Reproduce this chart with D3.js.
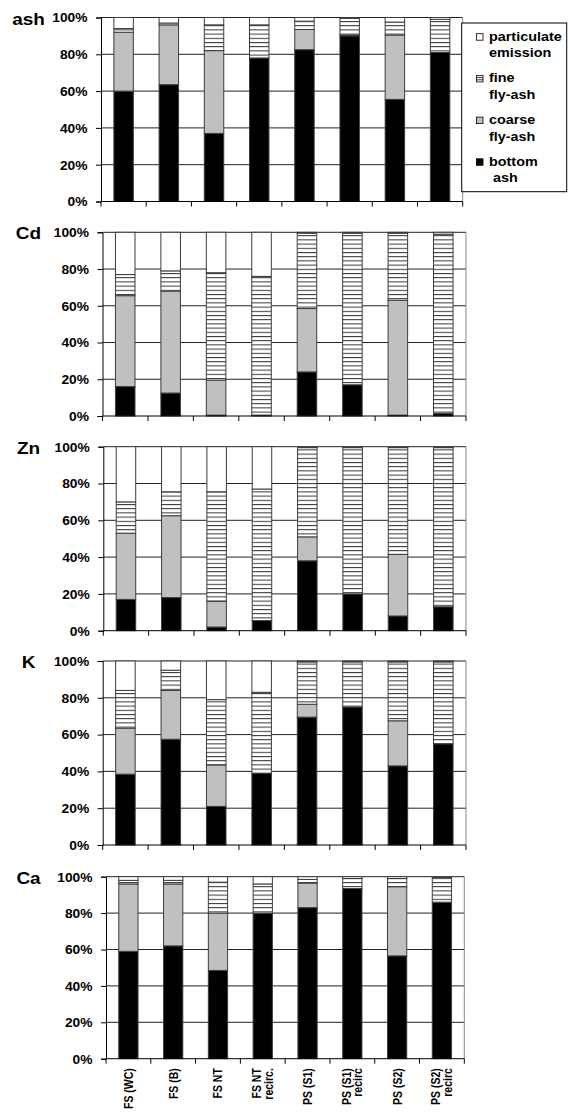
<!DOCTYPE html>
<html>
<head>
<meta charset="UTF-8">
<title>Ash and element distribution</title>
<script src="https://d3js.org/d3.v7.min.js"></script>
<style>
  body { margin: 0; background: #fff; }
  text { font-family: Arial, "Liberation Sans", sans-serif; font-weight: bold; fill: #000; }
</style>
</head>
<body>
<svg width="568" height="1113"></svg>
<script>
// categories (multi-line labels)
const categories = [["FS (WC)"], ["FS (B)"], ["FS NT"], ["FS NT", "recirc."],
                    ["PS (S1)"], ["PS (S1)", "recirc"], ["PS (S2)"], ["PS (S2)", "recirc"]];
const seriesKeys = ["bottom", "coarse", "fine", "particulate"];
const legendLabels = [["particulate", "emission"], ["fine", "fly-ash"], ["coarse", "fly-ash"], ["bottom", " ash"]];
const tickLabels = ["0%", "20%", "40%", "60%", "80%", "100%"];
const panelNames = ["ash", "Cd", "Zn", "K", "Ca"];

// rows: bottom ash, coarse fly-ash, fine fly-ash, particulate emission (%)
const ash = [
  [60, 63.5, 37, 78, 82.5, 90, 55.5, 81],
  [32, 32.5, 45, 0, 11, 0.5, 35, 0],
  [2, 1, 14, 18, 4.5, 9, 7, 18],
  [6, 3, 4, 4, 2, 0.5, 2.5, 1]
];
const cd = [
  [16, 12.5, 0.5, 0, 24, 17, 0.5, 1.5],
  [49.5, 55.5, 19, 0.5, 34.5, 0, 62.5, 0],
  [11.5, 11, 58.5, 75.5, 41, 82.5, 36.5, 97.5],
  [23, 21, 22, 24, 0.5, 0.5, 0.5, 1]
];
const zn = [
  [17, 18, 2, 5.5, 38, 20, 8, 13],
  [36, 44.5, 14, 0, 13, 0, 33.5, 0],
  [17, 13, 59.5, 71.5, 48.5, 79.5, 58, 86.5],
  [30, 24.5, 24.5, 23, 0.5, 0.5, 0.5, 0.5]
];
const k = [
  [38.5, 57.5, 21, 39, 69.5, 75, 43, 55],
  [25, 26.5, 22.5, 0, 7, 0, 24.5, 0],
  [20.5, 11, 35.5, 44, 23, 24.5, 32, 44.5],
  [16, 5, 21, 17, 0.5, 0.5, 0.5, 0.5]
];
const ca = [
  [59, 62, 48.5, 80, 83, 93.5, 56.5, 86],
  [37, 34, 31.5, 0, 13.5, 0, 38, 0],
  [2, 2, 17, 16, 2, 5.5, 4.5, 13.5],
  [2, 2, 3, 4, 1.5, 1, 1, 0.5]
];
const panelData = [ash, cd, zn, k, ca];

// panel boxes (plot area)
const tops = [17.5, 232.3, 446.7, 661, 876.7];
const bottoms = [201.5, 416, 630.7, 845, 1058.7];
const lefts = [101, 102.5, 103.3, 102.7, 106];
const rights = [462.7, 466, 466, 466, 464.3];

const SX = 1.15; // text in the picture is stretched horizontally
const fills = { bottom: "#000", coarse: "#c0c0c0", fine: "url(#hstripe)", particulate: "#fff" };

const svg = d3.select("svg");

const defs = svg.append("defs");
const pat = defs.append("pattern")
    .attr("id", "hstripe")
    .attr("patternUnits", "userSpaceOnUse")
    .attr("width", 8).attr("height", 4.2);
pat.append("rect").attr("width", 8).attr("height", 4.2).attr("fill", "#fff");
pat.append("rect").attr("y", 0).attr("width", 8).attr("height", 1).attr("fill", "#333");

function stretchedText(g, x, y, str, size, anchor) {
    return g.append("text")
        .attr("transform", `translate(${x},${y}) scale(${SX},1)`)
        .attr("text-anchor", anchor)
        .attr("font-size", size)
        .text(str);
}

panelData.forEach((data, p) => {
    const rows = categories.map((c, i) => {
        const r = { cat: c.join(" ") };
        seriesKeys.forEach((key, s) => r[key] = data[s][i]);
        return r;
    });
    const stacked = d3.stack().keys(seriesKeys).offset(d3.stackOffsetExpand)(rows);

    const x = d3.scaleBand()
        .domain(rows.map(d => d.cat))
        .range([lefts[p], rights[p]]);
    const y = d3.scaleLinear().domain([0, 1]).range([bottoms[p], tops[p]]);
    const barW = x.bandwidth() * 0.43;

    const g = svg.append("g");

    // grid
    g.append("g").selectAll("line")
        .data(y.ticks(5).filter(t => t > 0))
        .join("line")
        .attr("x1", lefts[p]).attr("x2", rights[p])
        .attr("y1", d => y(d)).attr("y2", d => y(d))
        .attr("stroke", "#222").attr("stroke-width", 1);
    g.append("line")
        .attr("x1", rights[p]).attr("x2", rights[p])
        .attr("y1", tops[p]).attr("y2", bottoms[p])
        .attr("stroke", "#888");

    // bars
    g.append("g").selectAll("g")
        .data(stacked)
        .join("g")
        .attr("fill", d => fills[d.key])
        .selectAll("rect")
        .data(d => d.filter(v => v[1] - v[0] > 0.0001))
        .join("rect")
        .attr("x", d => x(d.data.cat) + (x.bandwidth() - barW) / 2)
        .attr("width", barW)
        .attr("y", d => y(d[1]))
        .attr("height", d => y(d[0]) - y(d[1]))
        .attr("stroke", "#3c3c3c")
        .attr("stroke-width", 1);

    // y axis
    const yAxis = g.append("g")
        .attr("transform", `translate(${lefts[p]},0)`)
        .call(d3.axisLeft(y).ticks(5).tickSize(5).tickFormat(""));
    yAxis.select(".domain").attr("stroke", "#000");
    yAxis.selectAll(".tick line").attr("stroke", "#000");
    y.ticks(5).forEach((t, i) => {
        stretchedText(g, lefts[p] - 13.5, y(t) + 4.8, tickLabels[i], 12, "end");
    });

    // x axis with ticks on category boundaries
    g.append("line")
        .attr("x1", lefts[p]).attr("x2", rights[p])
        .attr("y1", bottoms[p]).attr("y2", bottoms[p])
        .attr("stroke", "#000");
    const bounds = rows.map(d => x(d.cat)).concat([rights[p]]);
    g.append("g").selectAll("line")
        .data(bounds)
        .join("line")
        .attr("x1", d => d).attr("x2", d => d)
        .attr("y1", bottoms[p]).attr("y2", bottoms[p] + 5)
        .attr("stroke", "#000");

    // panel title
    stretchedText(g, 28.5, tops[p] + 7, panelNames[p], 16.5, "middle");

    // category labels on the last panel
    if (p === panelData.length - 1) {
        categories.forEach((lines, i) => {
            const cx = x(rows[i].cat) + x.bandwidth() / 2;
            lines.forEach((ln, j) => {
                const off = lines.length === 1 ? 4.5 : (j === 0 ? -1.5 : 10);
                g.append("text")
                    .attr("transform", `translate(${cx + off},${bottoms[p] + 9.5}) scale(${SX},1) rotate(-90)`)
                    .attr("text-anchor", "end")
                    .attr("font-size", 10.5)
                    .text(ln);
            });
        });
    }
});

// legend
const lg = svg.append("g");
lg.append("rect")
    .attr("x", 461.7).attr("y", 23)
    .attr("width", 105).attr("height", 168.7)
    .attr("fill", "#fff").attr("stroke", "#000");
const legendKeys = ["particulate", "fine", "coarse", "bottom"];
legendKeys.forEach((key, i) => {
    const by = 40.7 + i * 41.7;
    lg.append("rect")
        .attr("x", 476.5).attr("y", by - 7)
        .attr("width", 6.5).attr("height", 6.5)
        .attr("fill", key === "fine" ? "#fff" : fills[key])
        .attr("stroke", "#000").attr("stroke-width", 0.8);
    if (key === "fine") {
        lg.append("line").attr("x1", 476.5).attr("x2", 483).attr("y1", by - 4.8).attr("y2", by - 4.8).attr("stroke", "#000").attr("stroke-width", 0.8);
        lg.append("line").attr("x1", 476.5).attr("x2", 483).attr("y1", by - 2.6).attr("y2", by - 2.6).attr("stroke", "#000").attr("stroke-width", 0.8);
    }
    legendLabels[i].forEach((ln, j) => {
        stretchedText(lg, 489, by + j * 16.5, ln, 12.5, "start")
            .attr("xml:space", "preserve");
    });
});
</script>
</body>
</html>
